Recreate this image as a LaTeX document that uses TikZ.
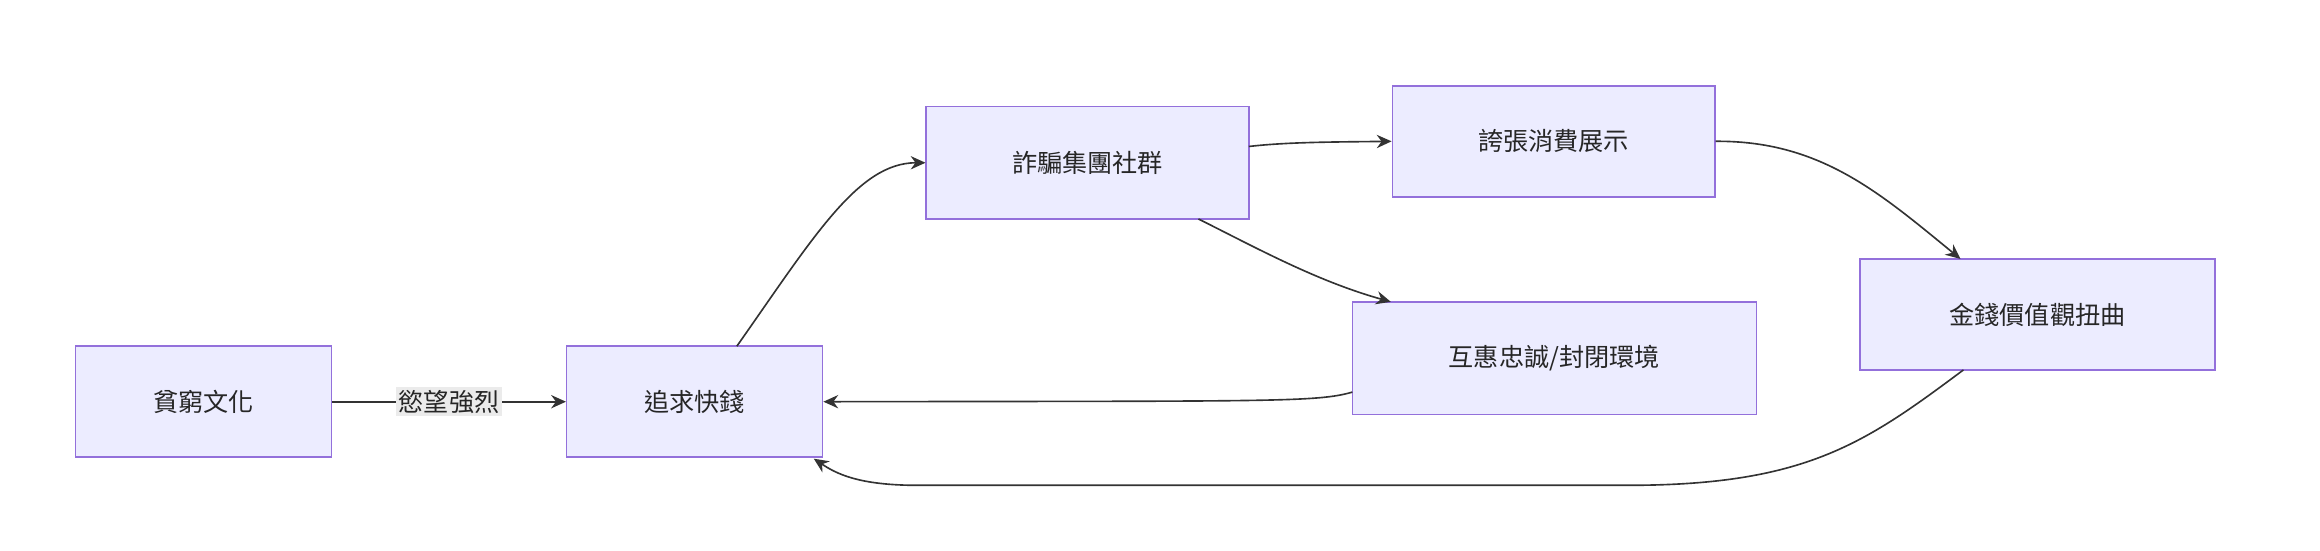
\documentclass[tikz,border=0pt]{standalone}
\usepackage{fontspec}
\setmainfont{Noto Sans CJK TC}
\usetikzlibrary{arrows.meta}
\definecolor{nfill}{HTML}{ECECFF}
\definecolor{nline}{HTML}{9370DB}
\definecolor{edge}{HTML}{333333}
\begin{document}
\begin{tikzpicture}[x=1pt,y=-1pt,
  box/.style={draw=nline,fill=nfill,line width=1pt,minimum height=75pt,font=\fontsize{17}{20}\selectfont,text=black!85,inner sep=0pt},
  arr/.style={draw=edge,line width=1.1pt,-{Stealth[length=10pt,width=9pt]}}]
\useasboundingbox (0,0) rectangle (1568,372);
\node[box,minimum width=173pt] (a) at (137.5,271.5) {貧窮文化};
\node[box,minimum width=173pt] (b) at (469.5,271.5) {追求快錢};
\node[box,minimum width=218pt,minimum height=76pt] (c) at (735,110) {詐騙集團社群};
\node[box,minimum width=218pt] (d) at (1050,95.5) {誇張消費展示};
\node[box,minimum width=273pt,minimum height=76pt] (e) at (1050.5,242) {互惠忠誠/封閉環境};
\node[box,minimum width=240pt] (f) at (1377,212.5) {金錢價值觀扭曲};
\draw[arr] (a) -- node[fill=black!8,inner sep=2pt,font=\fontsize{17}{20}\selectfont,text=black!85] {慾望強烈} (b);
\draw[arr] (498,234) .. controls (550,160) and (580,110) .. (c.west);
\draw[arr] (844,99) .. controls (870,96) and (900,96) .. (d.west);
\draw[arr] (810,148) .. controls (850,168) and (890,190) .. (940,204);
\draw[arr] (d.east) .. controls (1230,95) and (1270,130) .. (1325,175);
\draw[arr] (914,265) .. controls (890,272) and (860,271) .. (b.east);
\draw[arr] (1327,250) .. controls (1260,300) and (1220,328) .. (1100,328) -- (620,328) .. controls (580,328) and (565,320) .. (550,310);
\end{tikzpicture}
\end{document}
